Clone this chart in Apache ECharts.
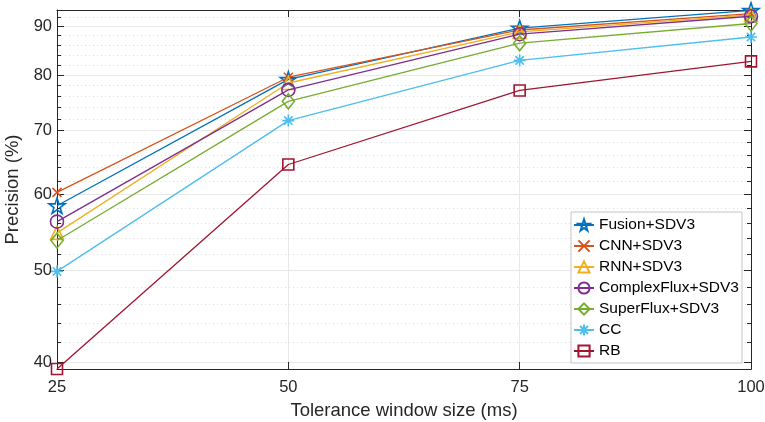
<!DOCTYPE html>
<html>
<head>
<meta charset="utf-8">
<style>
  html, body { margin: 0; padding: 0; background: #fff; }
  #main { width: 765px; height: 422px; }
</style>
</head>
<body>
<div id="main"></div>
<script src="https://cdn.jsdelivr.net/npm/echarts@6/dist/echarts.min.js"></script>
<script type="text/javascript">
// tolerance windows (ms)
var windows = [25, 50, 75, 100];

// precision (%) per method
var fusion      = [58.4, 79.2, 89.6, 93.5];
var cnn         = [60.3, 79.6, 89.2, 92.8];
var rnn         = [54.7, 78.5, 88.8, 92.5];
var complexFlux = [56.2, 77.2, 88.3, 92.2];
var superFlux   = [53.7, 75.1, 86.4, 90.6];
var cc          = [49.85, 71.7, 82.9, 87.7];
var rb          = [39.4, 64.5, 77.1, 82.7];

var names = ['Fusion+SDV3', 'CNN+SDV3', 'RNN+SDV3', 'ComplexFlux+SDV3', 'SuperFlux+SDV3', 'CC', 'RB'];

// y tick labels (log axis)
var yMajor = [40, 50, 60, 70, 80, 90];
var yMinor = [42, 44, 46, 48, 52, 54, 56, 58, 62, 64, 66, 68, 72, 74, 76, 78, 82, 84, 86, 88, 92];

var colors = ['#0072BD', '#D95319', '#EDB120', '#7E2F8E', '#77AC30', '#4DBEEE', '#A2142F'];
var symbols = [
  'path://M10,0 L12.25,6.91 L19.51,6.91 L13.63,11.18 L15.88,18.09 L10,13.82 L4.12,18.09 L6.37,11.18 L0.49,6.91 L7.75,6.91 Z',
  'path://M0,0 L10,10 M10,0 L0,10',
  'triangle',
  'circle',
  'diamond',
  'path://M6,0 L6,12 M0,6 L12,6 M1.8,1.8 L10.2,10.2 M10.2,1.8 L1.8,10.2',
  'rect'
];
var sizes = [16, 9, 13, 13, [12, 15], 12, 11];
var allData = [fusion, cnn, rnn, complexFlux, superFlux, cc, rb];

var axisColor = '#262626';

function pairs(vals) {
  return windows.map(function (w, i) { return [w, vals[i]]; });
}

var series = allData.map(function (vals, i) {
  return {
    name: names[i],
    type: 'line',
    data: pairs(vals),
    symbol: symbols[i],
    symbolSize: sizes[i],
    symbolKeepAspect: true,
    showAllSymbol: true,
    z: 2 + i,
    lineStyle: { color: colors[i], width: 1.3 },
    itemStyle: { color: 'rgba(255,255,255,0)', borderColor: colors[i], borderWidth: 1.6 },
    emphasis: { disabled: true },
    animation: false
  };
});

function yAxisDef(pos, vals, tickLen, showLabel, split) {
  return {
    type: 'log',
    logBase: 10,
    position: pos,
    min: 39.4,
    max: 93.6,
    axisLine: { show: !!showLabel || pos === 'right', lineStyle: { color: axisColor, width: 1 } },
    axisTick: { show: true, inside: true, length: tickLen, customValues: vals, lineStyle: { color: axisColor } },
    axisLabel: { show: !!showLabel, customValues: vals, fontSize: 16.5, color: axisColor, margin: 5, fontFamily: 'Liberation Sans, Arial, sans-serif' },
    splitLine: split || { show: false },
    name: showLabel ? 'Precision (%)' : '',
    nameLocation: 'middle',
    nameGap: 30,
    nameTextStyle: { fontSize: 18.5, color: axisColor, fontFamily: 'Liberation Sans, Arial, sans-serif' }
  };
}

var myChart = echarts.init(document.getElementById('main'));
myChart.setOption({
  animation: false,
  grid: { left: 57, right: 14, top: 10, bottom: 53, outerBoundsMode: 'none' },
  legend: {
    orient: 'vertical',
    left: 571,
    top: 212,
    itemWidth: 20,
    itemHeight: 14,
    itemGap: 5,
    padding: [5, 3, 4, 2],
    backgroundColor: '#fff',
    borderColor: '#c4c4c4',
    borderWidth: 1,
    borderRadius: 0,
    textStyle: { fontSize: 15.5, color: '#000', fontFamily: 'Liberation Sans, Arial, sans-serif' },
    data: names
  },
  xAxis: [{
    type: 'value',
    position: 'bottom',
    min: 25,
    max: 100,
    interval: 25,
    axisLine: { lineStyle: { color: axisColor, width: 1 } },
    axisTick: { inside: true, length: 7, lineStyle: { color: axisColor } },
    axisLabel: { fontSize: 16.5, color: axisColor, margin: 10, fontFamily: 'Liberation Sans, Arial, sans-serif' },
    splitLine: { show: true, lineStyle: { color: '#e8e8e8', width: 1 } },
    name: 'Tolerance window size (ms)',
    nameLocation: 'middle',
    nameGap: 32,
    nameTextStyle: { fontSize: 18.5, color: axisColor, fontFamily: 'Liberation Sans, Arial, sans-serif' }
  }, {
    type: 'value',
    position: 'top',
    min: 25,
    max: 100,
    interval: 25,
    axisLine: { lineStyle: { color: axisColor, width: 1 } },
    axisTick: { inside: true, length: 7, lineStyle: { color: axisColor } },
    axisLabel: { show: false },
    splitLine: { show: false }
  }],
  yAxis: [
    yAxisDef('left', yMajor, 7, true, { show: true, lineStyle: { color: '#e8e8e8', width: 1 } }),
    yAxisDef('left', yMinor, 4, false, { show: true, lineStyle: { color: '#dcdcdc', width: 1, type: [1, 3] } }),
    yAxisDef('right', yMajor, 7, false),
    yAxisDef('right', yMinor, 4, false)
  ],
  series: series
});
</script>
</body>
</html>
